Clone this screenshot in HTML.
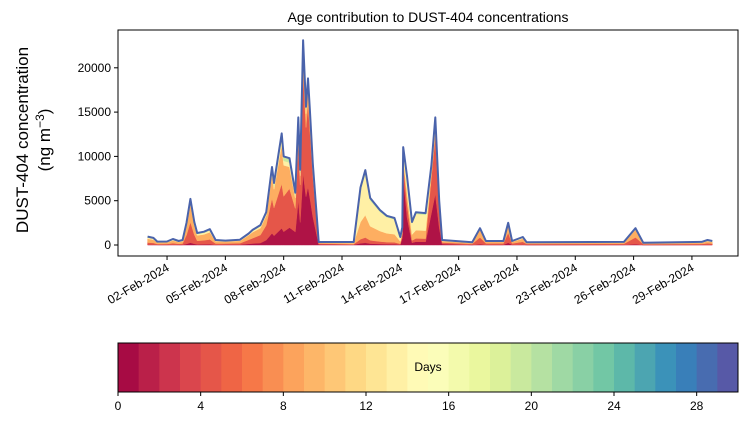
<!DOCTYPE html>
<html><head><meta charset="utf-8"><style>
body{margin:0;background:#fff;width:748px;height:425px;overflow:hidden}
svg text{font-family:"Liberation Sans","DejaVu Sans",sans-serif;fill:#000}
</style></head><body>
<svg id="c" width="748" height="425" xmlns="http://www.w3.org/2000/svg"></svg>
<script>
const days=[0,0.3,0.5,1.0,1.3,1.6,1.8,2.0,2.2,2.4,2.55,2.9,3.2,3.5,4.0,4.75,5.2,5.4,5.8,6.1,6.4,6.5,6.9,7.0,7.3,7.6,7.75,7.85,8.0,8.15,8.25,8.35,8.5,8.8,10.6,10.95,11.2,11.45,11.95,12.3,12.7,13.0,13.1,13.15,13.35,13.6,13.8,14.3,14.6,14.8,15.0,15.15,16.7,17.1,17.4,18.3,18.55,18.75,19.3,19.5,24.5,25.1,25.5,28.5,28.8,29.05];
const totals=[950,800,380,400,680,450,560,2500,5200,2600,1350,1500,1800,560,500,600,1300,1700,2250,3700,8800,7000,12600,10000,9800,5900,14400,8500,23100,15600,18800,15200,9200,340,340,6500,8450,5300,3950,3300,3050,900,2000,11050,7700,2600,3700,3600,9000,14400,5000,560,300,1900,450,450,2500,450,900,300,350,1900,250,350,560,450];
const shareAge0to2=[5,5,5,5,5,5,5,5,5,5,5,5,5,5,8,8,10,10,10,15,15,15,15,15,20,25,35,30,35,35,35,35,35,20,10,3,3,3,3,3,3,5,40,70,40,10,10,10,40,40,40,20,5,5,5,5,10,5,5,5,5,5,5,5,5,5];
const shareAge3to7=[25,25,25,25,25,25,25,40,45,40,30,30,30,25,25,25,35,35,40,45,45,45,40,40,45,45,45,50,50,50,50,50,50,30,20,7,7,7,7,7,7,10,20,15,20,10,10,10,45,45,45,30,35,40,35,35,45,35,35,35,35,40,35,30,30,30];
const shareAge8to13=[45,45,45,45,45,45,45,40,40,40,45,45,45,45,45,45,40,40,35,30,30,30,35,35,25,20,12,12,10,10,10,10,10,30,35,30,30,30,30,30,30,30,15,5,15,25,25,25,7,7,7,30,40,45,40,40,35,40,40,40,40,45,40,40,40,40];
const shareAge14to20=[15,15,15,15,15,15,15,10,5,10,12,12,12,15,15,15,10,10,10,5,5,5,5,5,5,5,4,4,3,3,3,3,3,12,25,55,55,55,55,55,55,45,15,7,20,50,50,50,5,5,5,12,12,5,12,12,6,12,12,12,12,6,12,15,15,15];
const yTicks=[0,5000,10000,15000,20000];
const xTickDays=[1,4,7,10,13,16,19,22,25,28];
const xTickLabels=["02-Feb-2024","05-Feb-2024","08-Feb-2024","11-Feb-2024","14-Feb-2024","17-Feb-2024","20-Feb-2024","23-Feb-2024","26-Feb-2024","29-Feb-2024"];
const cbTicks=[0,4,8,12,16,20,24,28];

const NS="http://www.w3.org/2000/svg",svg=document.getElementById('c');
function mk(t,a,p){const e=document.createElementNS(NS,t);for(const k in a)e.setAttribute(k,a[k]);(p||svg).appendChild(e);return e;}
const px0=118,px1=738,py0=30,py1=256;
const X=d=>147.6+d*19.44;
const Y=v=>245-v*0.00886;
const stops=[[158,1,66],[213,62,79],[244,109,67],[253,174,97],[254,224,139],[255,255,191],[230,245,152],[171,221,164],[102,194,165],[50,136,189],[94,79,162]];
function spectral(t){t=Math.max(0,Math.min(1,t))*10;const i=Math.min(9,Math.floor(t)),f=t-i,a=stops[i],b=stops[i+1];return `rgb(${a.map((v,k)=>Math.round(v+(b[k]-v)*f)).join(',')})`;}

// title
let t=mk('text',{x:428,y:22,'text-anchor':'middle','font-size':14});t.textContent='Age contribution to DUST-404 concentrations';

// stacked layers
const layers=[{s:shareAge0to2,c:spectral(0.03)},{s:shareAge3to7,c:spectral(0.15)},{s:shareAge8to13,c:spectral(0.3)},{s:shareAge14to20,c:spectral(0.45)},{s:null,c:spectral(0.65)}];
let cum=days.map(()=>0);
const g=mk('g',{});
layers.forEach((L,li)=>{
  const lo=cum.slice();
  const hi=days.map((d,i)=>L.s?lo[i]+totals[i]*L.s[i]/100:totals[i]);
  let dd='M'+days.map((d,i)=>X(d).toFixed(1)+','+Y(hi[i]).toFixed(1)).join('L');
  for(let i=days.length-1;i>=0;i--)dd+='L'+X(days[i]).toFixed(1)+','+Y(lo[i]).toFixed(1);
  const p=mk('path',{d:dd+'Z',fill:L.c,stroke:L.c,'stroke-width':0.5},g);
  
  cum=hi;
});
const line=mk('path',{d:'M'+days.map((d,i)=>X(d).toFixed(1)+','+Y(totals[i]).toFixed(1)).join('L'),fill:'none',stroke:'#4a63ab','stroke-width':2,'stroke-linejoin':'round'});

// frame
const fr=mk('rect',{x:px0,y:py0,width:px1-px0,height:py1-py0,fill:'none',stroke:'#000','stroke-width':1});

yTicks.forEach(v=>{const y=Y(v);mk('line',{x1:px0-4,x2:px0,y1:y,y2:y,stroke:'#000'});
 const l=mk('text',{x:px0-7,y:y+4,'text-anchor':'end','font-size':12});l.textContent=v;
 });
xTickDays.forEach((d,i)=>{const x=X(d);mk('line',{x1:x,x2:x,y1:py1,y2:py1+4,stroke:'#000'});
 const l=mk('text',{x:x+3,y:py1+14,'text-anchor':'end','font-size':12,transform:`rotate(-30 ${x+3} ${py1+14})`});l.textContent=xTickLabels[i];
 });
const yl=mk('text',{transform:'translate(0,0)','text-anchor':'middle','font-size':17});

yl.innerHTML='<tspan x="-140" y="28">DUST-404 concentration</tspan><tspan x="-140" y="50">(ng m<tspan dy="-6" font-size="12">−3</tspan><tspan dy="6">)</tspan></tspan>';
yl.setAttribute('transform','rotate(-90)');
// colorbar
const cb=mk('g',{});
const cx0=118,cx1=738,cy0=343,cy1=392,w=(cx1-cx0)/30;
for(let i=0;i<30;i++){mk('rect',{x:cx0+i*w,y:cy0,width:w+0.5,height:cy1-cy0,fill:spectral((i+0.5)/30)},cb);}
mk('rect',{x:cx0,y:cy0,width:cx1-cx0,height:cy1-cy0,fill:'none',stroke:'#000'},cb);
cbTicks.forEach(v=>{const x=cx0+v*w;mk('line',{x1:x,x2:x,y1:cy1,y2:cy1+4,stroke:'#000'},cb);
 const l=mk('text',{x:x,y:cy1+18,'text-anchor':'middle','font-size':12},cb);l.textContent=v;
 });
const dl=mk('text',{x:428,y:371,'text-anchor':'middle','font-size':12},cb);dl.textContent='Days';

</script>
</body></html>
